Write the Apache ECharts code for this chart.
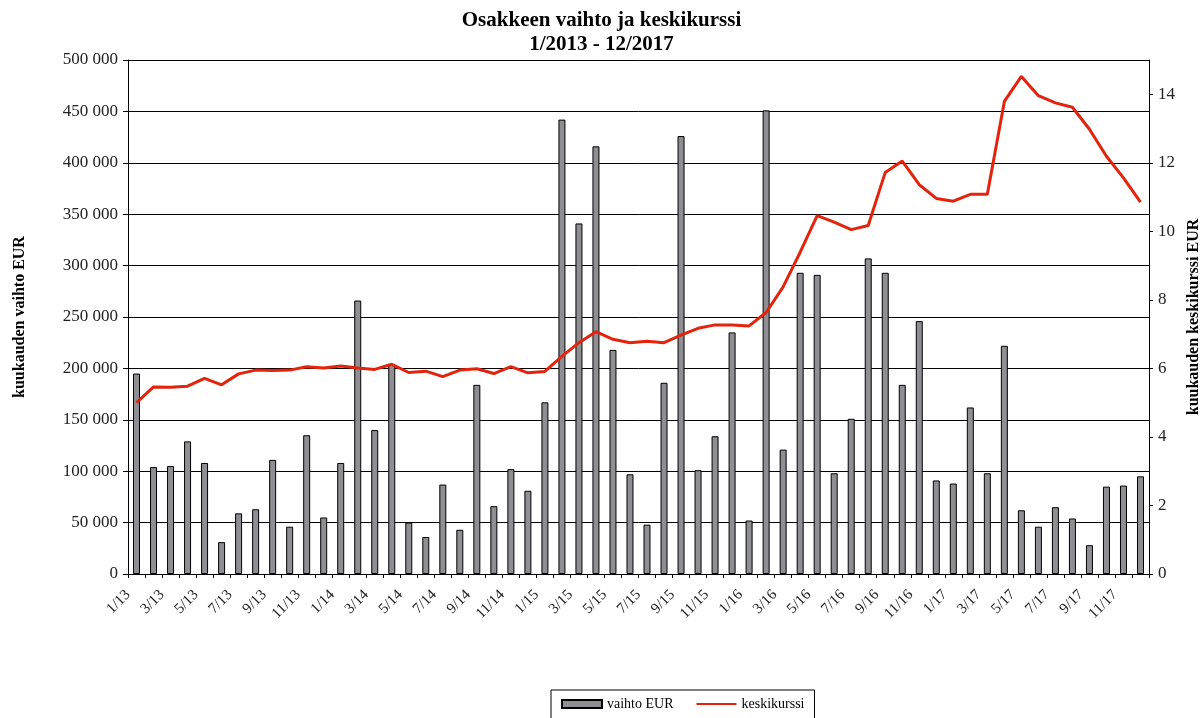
<!DOCTYPE html>
<html>
<head>
<meta charset="utf-8">
<script src="https://cdn.jsdelivr.net/npm/echarts@6/dist/echarts.min.js"></script>
<style>
  html, body { margin: 0; padding: 0; background: #fff; }
  #chart { width: 1203px; height: 718px; }
</style>
</head>
<body>
<div id="chart"></div>
<script>
// kuukaudet 1/2013 - 12/2017
var months = [];
for (var y = 13; y <= 17; y++) {
    for (var m = 1; m <= 12; m++) {
        months.push(m + '/' + y);
    }
}

// vaihto EUR
var vaihto = [
    195000, 104000, 105000, 129000, 108000, 31000, 59000, 63000, 111000, 46000, 135000, 55000,
    108000, 266000, 140000, 204000, 50000, 36000, 87000, 43000, 184000, 66000, 102000, 81000,
    167000, 442000, 341000, 416000, 218000, 97000, 48000, 186000, 426000, 101000, 134000, 235000,
    52000, 451000, 121000, 293000, 291000, 98000, 151000, 307000, 293000, 184000, 246000, 91000,
    88000, 162000, 98000, 222000, 62000, 46000, 65000, 54000, 28000, 85000, 86000, 95000
];

// keskikurssi EUR
var keskikurssi = [
    5.00, 5.46, 5.45, 5.48, 5.71, 5.52, 5.84, 5.95, 5.94, 5.95, 6.05, 6.01,
    6.07, 6.01, 5.97, 6.12, 5.88, 5.92, 5.76, 5.95, 5.99, 5.85, 6.05, 5.87,
    5.91, 6.35, 6.75, 7.07, 6.85, 6.75, 6.79, 6.75, 6.97, 7.17, 7.27, 7.27,
    7.24, 7.63, 8.38, 9.39, 10.46, 10.27, 10.05, 10.17, 11.72, 12.05, 11.36, 10.96,
    10.88, 11.08, 11.08, 13.79, 14.52, 13.96, 13.75, 13.62, 12.98, 12.19, 11.56, 10.85
];

var serif = '"Liberation Serif", "DejaVu Serif", serif';

var myChart = echarts.init(document.getElementById('chart'));
var options = {
    backgroundColor: '#fff',
    animation: false,
    title: {
        text: 'Osakkeen vaihto ja keskikurssi\n1/2013 - 12/2017',
        left: 'center',
        top: 4,
        textStyle: {
            fontFamily: serif,
            fontSize: 21,
            fontWeight: 'bold',
            color: '#000',
            lineHeight: 24
        }
    },
    legend: {
        left: 551,
        top: 690,
        padding: [7, 10, 12, 10],
        borderColor: '#000',
        borderWidth: 1,
        itemWidth: 40,
        itemHeight: 8,
        itemGap: 22,
        textStyle: { fontFamily: serif, fontSize: 14, color: '#000' },
        data: [
            { name: 'vaihto EUR', icon: 'rect' },
            { name: 'keskikurssi', itemStyle: { color: 'rgba(0,0,0,0)', borderWidth: 0, opacity: 0 } }
        ]
    },
    grid: {
        left: 128,
        right: 54,
        top: 60,
        bottom: 144,
        containLabel: false,
        outerBoundsMode: 'none'
    },
    xAxis: {
        type: 'category',
        data: months,
        boundaryGap: true,
        axisLine: { show: true, lineStyle: { color: '#000', width: 1 } },
        axisTick: { show: true, length: 4, interval: 0, lineStyle: { color: '#000' } },
        axisLabel: {
            interval: 1,
            rotate: 45,
            margin: 10,
            padding: [0, 12, 0, 0],
            fontFamily: serif,
            fontSize: 15,
            color: '#222'
        }
    },
    yAxis: [{
        type: 'value',
        min: 0,
        max: 500000,
        interval: 50000,
        name: 'kuukauden vaihto EUR',
        nameLocation: 'middle',
        nameGap: 100,
        nameTextStyle: { fontFamily: serif, fontSize: 16, fontWeight: 'bold', color: '#000' },
        axisLine: { show: true, lineStyle: { color: '#000' } },
        axisTick: { show: true, length: 5, lineStyle: { color: '#000' } },
        axisLabel: {
            fontFamily: serif,
            fontSize: 17,
            color: '#222',
            margin: 10,
            formatter: function (v) {
                return String(v).replace(/\B(?=(\d{3})+(?!\d))/g, ' ');
            }
        },
        splitLine: { show: true, lineStyle: { color: '#000', width: 1 } }
    }, {
        type: 'value',
        min: 0,
        max: 15,
        interval: 2,
        position: 'right',
        name: 'kuukauden keskikurssi EUR',
        nameLocation: 'middle',
        nameGap: 35,
        nameRotate: 90,
        nameTextStyle: { fontFamily: serif, fontSize: 16, fontWeight: 'bold', color: '#000' },
        axisLine: { show: true, lineStyle: { color: '#000' } },
        axisTick: { show: true, length: 4, lineStyle: { color: '#000' } },
        axisLabel: {
            showMaxLabel: false,
            fontFamily: serif,
            fontSize: 17,
            color: '#222',
            margin: 9
        },
        splitLine: { show: false }
    }],
    series: [{
        name: 'vaihto EUR',
        type: 'bar',
        yAxisIndex: 0,
        barWidth: 7,
        itemStyle: { color: '#8e8e93', borderColor: '#000', borderWidth: 1 },
        data: vaihto
    }, {
        name: 'keskikurssi',
        type: 'line',
        yAxisIndex: 1,
        symbol: 'none',
        lineStyle: { color: '#e3230b', width: 3 },
        itemStyle: { color: '#e3230b' },
        data: keskikurssi
    }]
};
myChart.setOption(options, true);
</script>
</body>
</html>
